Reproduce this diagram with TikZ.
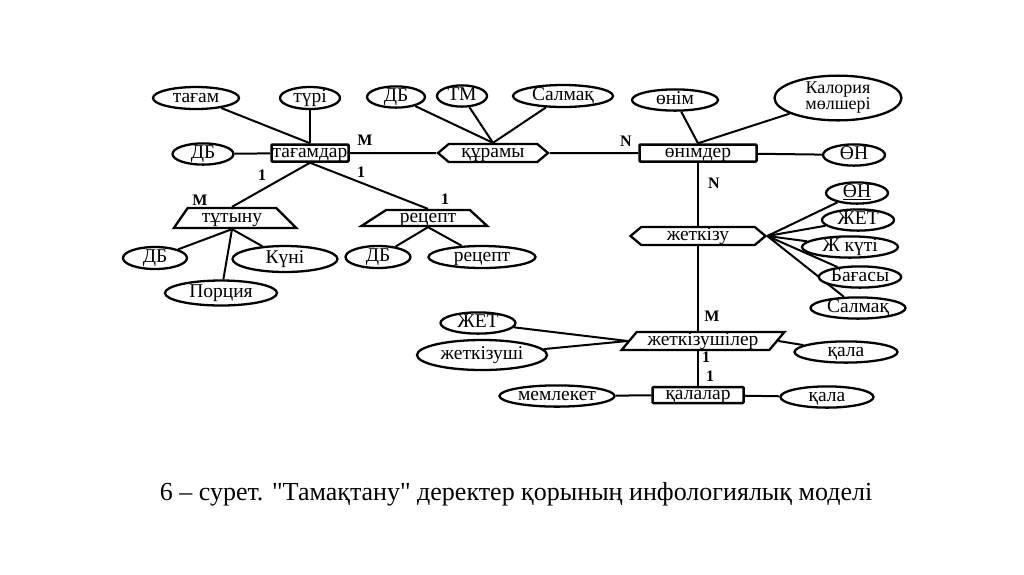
\documentclass[tikz,border=0pt]{standalone}
\usepackage{fontspec}
\setmainfont{Liberation Serif}
\newfontfamily\capfont{Liberation Serif}
\usetikzlibrary{shapes.geometric,shapes.symbols,backgrounds}

\newcommand{\lblfont}{\fontsize{19.5}{19.5}\selectfont}
\newcommand{\cardfont}{\fontsize{16}{16}\selectfont\bfseries}

\begin{document}
\begin{tikzpicture}[
  x=1pt, y=-1pt,
  attr/.style={ellipse, draw, line width=2.3pt, fill=white, inner sep=0pt,
    align=center, font=\lblfont, text height=12pt, text depth=3pt},
  ent/.style={rectangle, draw, line width=2.5pt, rounded corners=1pt, fill=white,
    inner sep=0pt, font=\lblfont, text height=12pt, text depth=3pt},
  rel/.style={signal, signal to=west and east, signal pointer angle=80, draw,
    line width=2.3pt, fill=white, inner sep=0pt, font=\lblfont,
    text height=12pt, text depth=3pt},
  weakrel/.style={trapezium, trapezium stretches=true, draw, line width=2.3pt,
    fill=white, inner sep=0pt, font=\lblfont, text height=12pt, text depth=3pt},
  card/.style={font=\cardfont, inner sep=0pt},
  link/.style={line width=2pt}
]
  \useasboundingbox (0,0) rectangle (1024,574);

  \node[ent, minimum width=77, minimum height=17] (tagamdar) at (310,153) {тағамдар};
  \node[attr, minimum width=86, minimum height=22] (tagam) at (196,98) {тағам};
  \node[attr, minimum width=60, minimum height=22] (turi) at (310,98) {түрі};
  \node[attr, minimum width=61, minimum height=20] (dbA) at (203,154) {ДБ};

  \node[rel, minimum width=110, minimum height=18] (quramy) at (493,153) {құрамы};
  \node[attr, minimum width=58, minimum height=21] (dbB) at (396,97) {\underline{ДБ}};
  \node[attr, minimum width=50, minimum height=21] (tm) at (462,96) {ТМ};
  \node[attr, minimum width=100, minimum height=22] (salmaqA) at (563,96) {Салмақ};

  \node[ent, minimum width=117, minimum height=17] (onimder) at (698,153) {өнімдер};
  \node[attr, minimum width=86, minimum height=21] (onim) at (675,100) {өнім};
  \node[attr, minimum width=127, minimum height=38, text height=, text depth=,
    font=\fontsize{18}{16}\selectfont] (kaloriya) at (838,98) {Калория\\мөлшері};
  \node[attr, minimum width=62, minimum height=20] (onA) at (854,155) {ӨН};

  \node[rel, minimum width=135, minimum height=18] (zhetkizu) at (698,236) {жеткізу};
  \node[attr, minimum width=62, minimum height=20] (onB) at (857,193) {\underline{ӨН}};
  \node[attr, minimum width=72, minimum height=20] (zhetA) at (858,220) {ЖЕТ};
  \node[attr, minimum width=96, minimum height=20] (zhkuti) at (850,247) {Ж күті};
  \node[attr, minimum width=76, minimum height=20] (bagasy) at (860,277) {Бағасы};
  \node[attr, minimum width=95, minimum height=20] (salmaqB) at (858,308) {Салмақ};

  \node[weakrel, trapezium left angle=50, trapezium right angle=130,
    minimum width=163, minimum height=18] (zhetkizushiler) at (703,341) {жеткізушілер};
  \node[attr, minimum width=75, minimum height=21] (zhetB) at (478,323) {ЖЕТ};
  \node[attr, minimum width=130, minimum height=30] (zhetkizushi) at (482,355) {жеткізуші};
  \node[attr, minimum width=103, minimum height=21] (qalaA) at (846,352) {қала};

  \node[ent, minimum width=91, minimum height=16] (qalalar) at (698,395) {қалалар};
  \node[attr, minimum width=115, minimum height=21] (memleket) at (557,396) {мемлекет};
  \node[attr, minimum width=93, minimum height=21] (qalaB) at (827,397) {қала};

  \node[weakrel, trapezium left angle=58, trapezium right angle=48,
    minimum width=123, minimum height=20] (tutynu) at (232,218) {тұтыну};
  \node[attr, minimum width=64, minimum height=22] (dbC) at (155,258) {ДБ};
  \node[attr, minimum width=105, minimum height=26] (kuni) at (285,259) {Күні};
  \node[attr, minimum width=112, minimum height=25] (portsiya) at (221,293) {Порция};

  \node[weakrel, trapezium left angle=42, trapezium right angle=52,
    minimum width=127, minimum height=16] (retsept) at (428,218) {рецепт};
  \node[attr, minimum width=65, minimum height=22] (dbD) at (378,257) {\underline{ДБ}};
  \node[attr, minimum width=107, minimum height=22] (retseptA) at (482,257) {рецепт};

  \node[card] (mA) at (365,140) {M};
  \node[card] (nA) at (626,141) {N};
  \node[card] (oneA) at (262,175) {1};
  \node[card] (oneB) at (361,172) {1};
  \node[card] (mB) at (200,200) {M};
  \node[card] (oneC) at (445,199) {1};
  \node[card] (nB) at (714,183) {N};
  \node[card] (mC) at (712,316) {M};
  \node[card] (oneD) at (706,357) {1};
  \node[card] (oneE) at (710,376) {1};

  \node[font=\capfont\fontsize{26}{26}\selectfont] (caption) at (516,494)
    {6 – сурет. "Тамақтану" деректер қорының инфологиялық моделі};

  \begin{scope}[on background layer]
    \draw[link] (tagam) -- (tagamdar.north);
    \draw[link] (turi) -- (tagamdar.north);
    \draw[link] (dbA) -- (tagamdar);
    \draw[link] (tagamdar) -- (quramy) -- (onimder);
    \draw[link] (dbB) -- (quramy.north);
    \draw[link] (tm) -- (quramy.north);
    \draw[link] (salmaqA) -- (quramy.north);
    \draw[link] (onim) -- (onimder.north);
    \draw[link] (kaloriya) -- (onimder.north);
    \draw[link] (onimder) -- (onA);
    \draw[link] (onimder.south) -- (onimder.south |- zhetkizushiler.north);
    \draw[link] (qalalar.north) -- (qalalar.north |- zhetkizushiler.south);
    \draw[link] (zhetkizu.east) -- (onB);
    \draw[link] (zhetkizu.east) -- (zhetA);
    \draw[link] (zhetkizu.east) -- (zhkuti);
    \draw[link] (zhetkizu.east) -- (bagasy);
    \draw[link] (zhetkizu.east) -- (salmaqB);
    \draw[link] (zhetB) -- (zhetkizushiler.west);
    \draw[link] (zhetkizushi) -- (zhetkizushiler.west);
    \draw[link] (zhetkizushiler.east) -- (qalaA);
    \draw[link] (memleket) -- (qalalar);
    \draw[link] (qalalar) -- (qalaB);
    \draw[link] (tagamdar.south) -- (tutynu.north);
    \draw[link] (tagamdar.south) -- (retsept.north);
    \draw[link] (tutynu.south) -- (dbC);
    \draw[link] (tutynu.south) -- (kuni);
    \draw[link] (tutynu.south) -- (portsiya);
    \draw[link] (retsept.south) -- (dbD);
    \draw[link] (retsept.south) -- (retseptA);
  \end{scope}
\end{tikzpicture}
\end{document}
